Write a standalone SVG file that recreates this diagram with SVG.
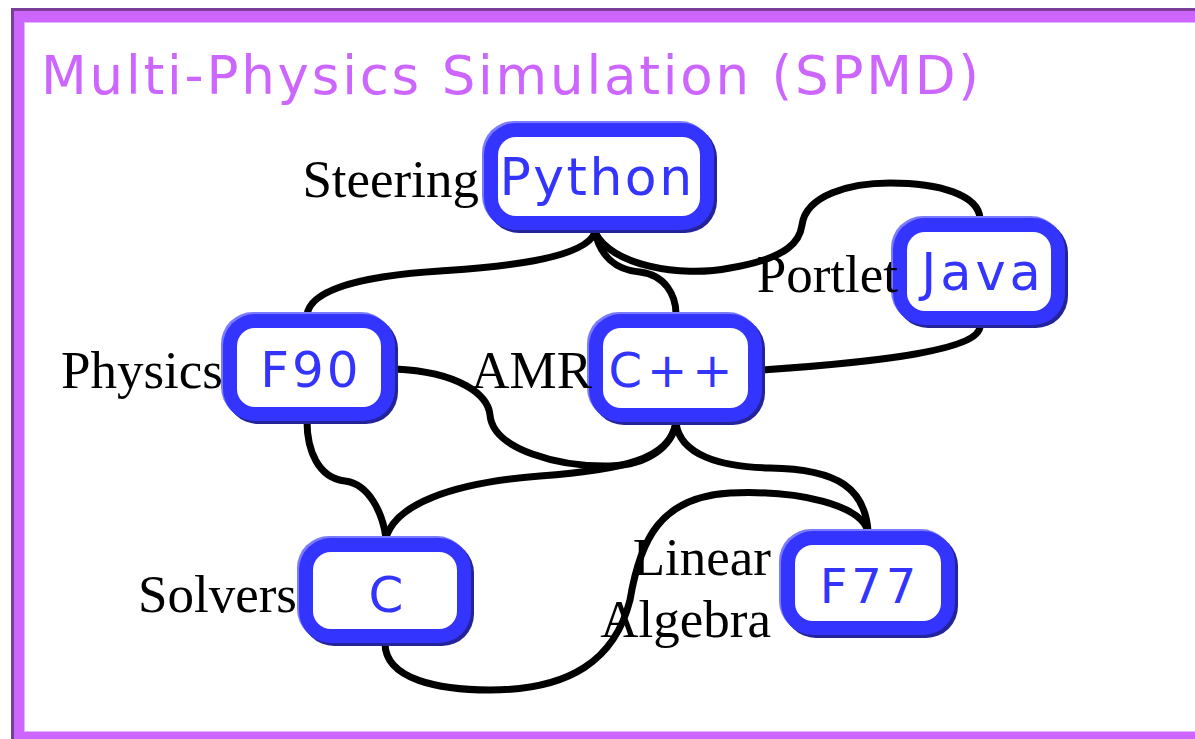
<svg xmlns="http://www.w3.org/2000/svg" width="1195" height="739" viewBox="0 0 1195 739">
  <style>
    .edge { fill: none; stroke: #000; stroke-width: 7; stroke-linecap: butt; }
    .hl { fill: #7b7bff; }
    .sh { fill: #24249a; }
    .body { fill: #3434ff; }
    .inner { fill: #fff; }
    .name { font-family: "DejaVu Sans", "Liberation Sans", sans-serif; fill: #3434ff; text-anchor: middle; }
    .role { font-family: "Liberation Serif", "Times New Roman", serif; font-size: 53px; fill: #000; text-anchor: end; }
    .title { font-family: "DejaVu Sans", "Liberation Sans", sans-serif; font-size: 53px; fill: #cc66ff; }
  </style>

  <!-- slide frame -->
  <g id="frame">
    <rect x="11" y="8" width="1200" height="740" fill="#cc66ff"/>
    <rect x="11" y="8" width="1200" height="3" fill="#7a3d99"/>
    <rect x="11" y="8" width="3" height="740" fill="#7a3d99"/>
    <rect x="24" y="22" width="1200" height="710" fill="#e6b3ff"/>
    <rect x="25" y="23" width="1200" height="708" fill="#fff"/>
  </g>

  <text class="title" x="41" y="94" textLength="938" lengthAdjust="spacing">Multi-Physics Simulation (SPMD)</text>

  <!-- links between components -->
  <g id="connectors">
    <path class="edge" d="M595,232 C585,262 480,268 440,271 C360,276 310,290 307,315"/>
    <path class="edge" d="M595,232 C600,255 615,270 640,272 C665,275 676,295 676,314"/>
    <path class="edge" d="M595,232 C610,265 680,278 730,268 C790,258 800,240 802,225 C806,195 850,183 890,183 C940,183 978,195 980,218"/>
    <path class="edge" d="M980,326 C980,350 880,362 762,370"/>
    <path class="edge" d="M395,369 C460,372 488,395 490,415 C493,450 560,467 610,466 C650,465 672,445 676,423"/>
    <path class="edge" d="M676,423 C670,460 620,470 540,476 C450,483 395,505 386,538"/>
    <path class="edge" d="M307,421 C307,450 318,478 345,481 C370,484 383,515 386,538"/>
    <path class="edge" d="M676,423 C680,455 720,467 770,468 C840,469 865,490 868,531"/>
    <path class="edge" d="M385,643 C385,680 440,690 490,690 C570,690 615,660 630,600 C640,540 660,497 730,493 C800,490 860,505 868,531"/>
  </g>

  <g id="python">
    <rect class="hl" x="482" y="121" width="230" height="107" rx="32"/>
    <rect class="sh" x="487" y="126" width="230" height="107" rx="32"/>
    <rect class="body" x="484" y="123" width="230" height="107" rx="32"/>
    <rect class="inner" x="498" y="137" width="202" height="79" rx="18"/>
    <text class="name" x="597" y="195" font-size="52" letter-spacing="2.5">Python</text>
    <text class="role" x="479" y="197">Steering</text>
  </g>

  <g id="java">
    <rect class="hl" x="891" y="216" width="172" height="107" rx="32"/>
    <rect class="sh" x="896" y="221" width="172" height="107" rx="32"/>
    <rect class="body" x="893" y="218" width="172" height="107" rx="32"/>
    <rect class="inner" x="907" y="232" width="144" height="79" rx="18"/>
    <text class="name" x="983" y="290" font-size="51" letter-spacing="4">Java</text>
    <text class="role" x="898" y="292">Portlet</text>
  </g>

  <g id="f90">
    <rect class="hl" x="221" y="312" width="172" height="107" rx="32"/>
    <rect class="sh" x="226" y="317" width="172" height="107" rx="32"/>
    <rect class="body" x="223" y="314" width="172" height="107" rx="32"/>
    <rect class="inner" x="237" y="328" width="144" height="79" rx="18"/>
    <text class="name" x="311" y="387" font-size="50" letter-spacing="3">F90</text>
    <text class="role" x="223" y="388">Physics</text>
  </g>

  <g id="cpp">
    <rect class="hl" x="587" y="312" width="173" height="108" rx="32"/>
    <rect class="sh" x="592" y="317" width="173" height="108" rx="32"/>
    <rect class="body" x="589" y="314" width="173" height="108" rx="32"/>
    <rect class="inner" x="603" y="328" width="145" height="80" rx="18"/>
    <text class="name" x="673" y="387" font-size="48" letter-spacing="5" font-family="Liberation Sans, sans-serif">C++</text>
    <text class="role" x="592" y="388">AMR</text>
  </g>

  <g id="c">
    <rect class="hl" x="297" y="536" width="172" height="105" rx="32"/>
    <rect class="sh" x="302" y="541" width="172" height="105" rx="32"/>
    <rect class="body" x="299" y="538" width="172" height="105" rx="32"/>
    <rect class="inner" x="313" y="552" width="144" height="77" rx="18"/>
    <text class="name" x="386" y="612" font-size="50">C</text>
    <text class="role" x="297" y="612">Solvers</text>
  </g>

  <g id="f77">
    <rect class="hl" x="779" y="529" width="174" height="104" rx="32"/>
    <rect class="sh" x="784" y="534" width="174" height="104" rx="32"/>
    <rect class="body" x="781" y="531" width="174" height="104" rx="32"/>
    <rect class="inner" x="795" y="545" width="146" height="76" rx="18"/>
    <text class="name" x="870" y="603" font-size="48" letter-spacing="4">F77</text>
    <text class="role" x="771" y="575">Linear</text>
    <text class="role" x="771" y="637">Algebra</text>
  </g>
</svg>
